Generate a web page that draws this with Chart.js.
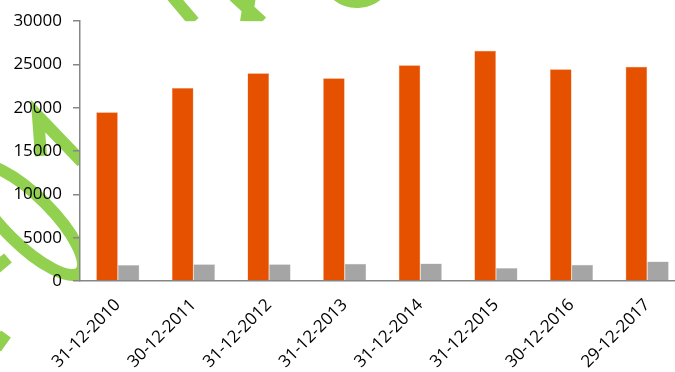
<!DOCTYPE html>
<html>
<head>
<meta charset="utf-8">
<script src="https://cdn.jsdelivr.net/npm/chart.js@4.4.0/dist/chart.umd.min.js"></script>
<style>
  html, body { margin: 0; padding: 0; background: #fff; overflow: hidden; }
  #wrap { width: 675px; height: 372px; overflow: hidden; }
</style>
</head>
<body>
<div id="wrap"><canvas id="chart" width="700" height="372"></canvas></div>
<script>
const categories = ['31-12-2010', '30-12-2011', '31-12-2012', '31-12-2013',
  '31-12-2014', '31-12-2015', '30-12-2016', '29-12-2017'];
const seriesA = [19500, 22300, 24000, 23400, 24900, 26600, 24450, 24750];
const seriesB = [1840, 1920, 1920, 1990, 2030, 1490, 1875, 2260];
const yTicks = [0, 5000, 10000, 15000, 20000, 25000, 30000];

const AXIS_GREY = '#868686';
const FONT = { family: "'Open Sans', 'Liberation Sans', sans-serif", size: 17 };

// green watermark behind the plot, only visible outside the plot area
const watermark = {
  id: 'watermark',
  beforeDraw(chart) {
    const { ctx, chartArea } = chart;
    ctx.save();
    ctx.strokeStyle = '#92D050';
    ctx.lineWidth = 12;
    ctx.lineCap = 'butt';
    ctx.lineJoin = 'miter';

    ctx.beginPath();
    ctx.moveTo(41, 156);
    ctx.lineTo(38, 116);
    ctx.lineTo(82, 162);
    ctx.stroke();

    ctx.beginPath();
    ctx.ellipse(28, 220, 74, 24, Math.PI / 4, 0, Math.PI * 2);
    ctx.stroke();

    ctx.beginPath();
    ctx.moveTo(-4, 268);
    ctx.lineTo(8, 258);
    ctx.stroke();
    ctx.beginPath();
    ctx.moveTo(-4, 348);
    ctx.lineTo(6, 334);
    ctx.stroke();

    ctx.beginPath();
    ctx.moveTo(172, -4);
    ctx.lineTo(194, 22);
    ctx.moveTo(234, -4);
    ctx.lineTo(262, 22);
    ctx.moveTo(250, -4);
    ctx.lineTo(246, 22);
    ctx.stroke();

    ctx.beginPath();
    ctx.arc(357, -30, 32, 0.22 * Math.PI, 0.78 * Math.PI);
    ctx.stroke();

    ctx.fillStyle = '#fff';
    ctx.fillRect(chartArea.left, chartArea.top, chartArea.right - chartArea.left,
      chartArea.bottom - chartArea.top + 90);
    ctx.restore();
  }
};

new Chart(document.getElementById('chart'), {
  type: 'bar',
  data: {
    labels: categories,
    datasets: [
      { label: 'Series 1', data: seriesA, backgroundColor: '#E65100',
        borderColor: '#F09060', borderWidth: 0.5 },
      { label: 'Series 2', data: seriesB, backgroundColor: '#A5A5A5',
        borderColor: '#C8C8C8', borderWidth: 0.5 }
    ]
  },
  options: {
    responsive: false,
    animation: false,
    layout: { padding: { top: 20, right: 15, left: 0, bottom: 0 } },
    datasets: { bar: { categoryPercentage: 0.57, barPercentage: 1.0 } },
    plugins: { legend: { display: false }, tooltip: { enabled: false } },
    scales: {
      x: {
        grid: { display: false },
        border: { display: true, color: AXIS_GREY, width: 1.5 },
        ticks: { color: '#000', font: FONT, minRotation: 45, maxRotation: 45, padding: 6 },
        afterFit(scale) { scale.height = 91; }
      },
      y: {
        min: 0,
        max: 30000,
        afterBuildTicks(scale) { scale.ticks = yTicks.map(v => ({ value: v })); },
        grid: { drawOnChartArea: false, drawTicks: true, tickLength: 7, color: AXIS_GREY, lineWidth: 1.5 },
        border: { display: true, color: AXIS_GREY, width: 1.5 },
        ticks: { color: '#000', font: FONT, padding: 11, callback: v => String(v) },
        afterFit(scale) { scale.width = 80; }
      }
    }
  },
  plugins: [watermark]
});
</script>
</body>
</html>
